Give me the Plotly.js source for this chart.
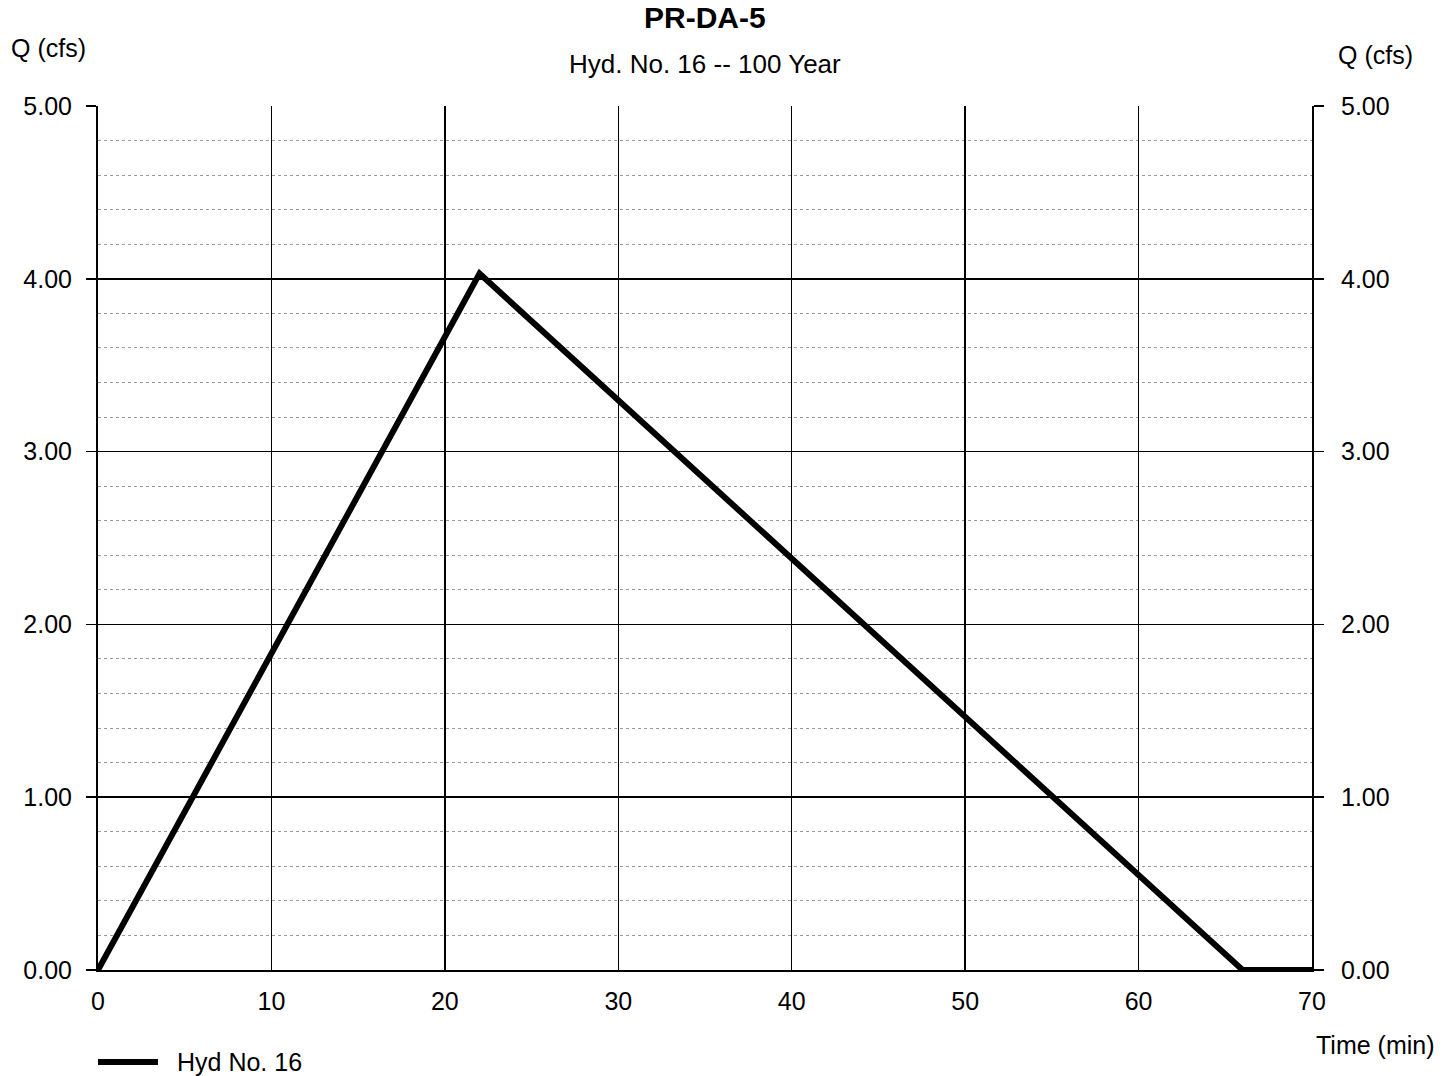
<!DOCTYPE html>
<html>
<head>
<meta charset="utf-8">
<script src="https://cdn.plot.ly/plotly-3.0.1.min.js"></script>
<style>html,body{margin:0;padding:0;background:#fff;}#chart{width:1453px;height:1076px;}</style>
</head>
<body>
<div id="chart"></div>
<script>
const timeMin = [0, 22, 66, 70];
const flowCfs = [0, 4.03, 0, 0];
const seriesName = "Hyd No. 16";
const yTickVals = [0, 1, 2, 3, 4, 5];
const yTickText = ["0.00", "1.00", "2.00", "3.00", "4.00", "5.00"];
const xTickVals = [0, 10, 20, 30, 40, 50, 60, 70];

const font = {family: "Liberation Sans, Arial, sans-serif", color: "#000", size: 25};

const traces = [
  {x: timeMin, y: flowCfs, type: "scatter", mode: "lines", name: seriesName,
   line: {color: "#000", width: 6}, showlegend: false},
  {x: [0, 70], y: [0, 0], type: "scatter", mode: "lines", yaxis: "y2",
   line: {color: "rgba(0,0,0,0)", width: 0}, showlegend: false, hoverinfo: "skip"}
];

const layout = {
  width: 1453, height: 1076,
  margin: {l: 98, r: 141, t: 106, b: 106, autoexpand: false},
  paper_bgcolor: "#fff", plot_bgcolor: "#fff",
  font: font,
  showlegend: false,
  xaxis: {range: [0, 70], tickvals: xTickVals, showgrid: true, gridcolor: "#000", gridwidth: 1.5,
          zeroline: false, showline: true, linecolor: "#000", linewidth: 2, mirror: false,
          ticks: "", ticklabelstandoff: 8, tickfont: {size: 25, color: "#000"}, fixedrange: true},
  yaxis: {range: [0, 5], tickvals: yTickVals, ticktext: yTickText, showgrid: true, gridcolor: "#000", gridwidth: 1.5,
          zeroline: false, showline: true, linecolor: "#000", linewidth: 2,
          ticks: "outside", ticklen: 10, tickcolor: "#000", tickwidth: 1.5, ticklabelstandoff: 9,
          tickfont: {size: 25, color: "#000"},
          minor: {dtick: 0.2, showgrid: true, gridcolor: "#9a9a9a", gridwidth: 1, griddash: "dot", ticks: ""}},
  yaxis2: {range: [0, 5], tickvals: yTickVals, ticktext: yTickText, overlaying: "y", side: "right",
           showgrid: false, zeroline: false, showline: true, linecolor: "#000", linewidth: 2,
           ticks: "outside", ticklen: 10, tickcolor: "#000", tickwidth: 1.5, ticklabelstandoff: 12,
           tickfont: {size: 25, color: "#000"}},
  shapes: [
    {type: "line", xref: "paper", yref: "paper", x0: 0, x1: 0.0494, y0: -0.1065, y1: -0.1065,
     line: {color: "#000", width: 6}}
  ],
  annotations: [
    {text: "<b>PR-DA-5</b>", xref: "paper", yref: "paper", x: 0.5, y: 1.102, xanchor: "center", yanchor: "middle",
     showarrow: false, font: {size: 30, color: "#000"}},
    {text: "Hyd. No. 16 -- 100 Year", xref: "paper", yref: "paper", x: 0.5, y: 1.0486, xanchor: "center", yanchor: "middle",
     showarrow: false, font: {size: 26, color: "#000"}},
    {text: "Q (cfs)", xref: "paper", yref: "paper", x: -0.041, y: 1.067, xanchor: "center", yanchor: "middle",
     showarrow: false, font: {size: 25, color: "#000"}},
    {text: "Q (cfs)", xref: "paper", yref: "paper", x: 1.052, y: 1.059, xanchor: "center", yanchor: "middle",
     showarrow: false, font: {size: 25, color: "#000"}},
    {text: "Time (min)", xref: "paper", yref: "paper", x: 1.052, y: -0.087, xanchor: "center", yanchor: "middle",
     showarrow: false, font: {size: 25, color: "#000"}},
    {text: seriesName, xref: "paper", yref: "paper", x: 0.0634, y: -0.1065, xanchor: "left", yanchor: "middle",
     showarrow: false, font: {size: 25, color: "#000"}}
  ]
};

Plotly.newPlot("chart", traces, layout, {displayModeBar: false, staticPlot: true});
</script>
</body>
</html>
